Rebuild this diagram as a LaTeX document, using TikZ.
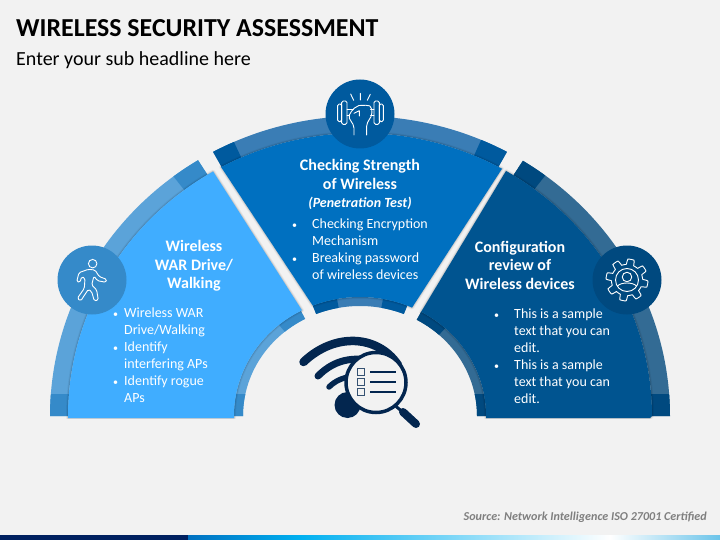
\documentclass[tikz,border=0pt]{standalone}
\usepackage{fontspec}
\setmainfont{Carlito}
\definecolor{bgc}{HTML}{F2F2F2}
\definecolor{mainL}{HTML}{40ADFF}\definecolor{ringL}{HTML}{5BA3D9}\definecolor{capL}{HTML}{358AC9}
\definecolor{mainC}{HTML}{0070C0}\definecolor{ringC}{HTML}{3A7DB5}\definecolor{capC}{HTML}{005A9E}
\definecolor{mainR}{HTML}{005490}\definecolor{ringR}{HTML}{336B94}\definecolor{capR}{HTML}{00497F}
\definecolor{navy}{HTML}{03264F}
\definecolor{srcgray}{HTML}{7F7F7F}
\definecolor{bardark}{HTML}{002060}
\definecolor{barcyan}{HTML}{00B0F0}
\definecolor{barend}{HTML}{6BC4EA}
% band between two half-ellipses around the common centre
\newcommand{\bandpath}[6]{plot[domain=#5:#6,samples=50] ({360+#1*cos(\x)},{416-#2*sin(\x)}) -- plot[domain=#6:#5,samples=50] ({360+#3*cos(\x)},{416-#4*sin(\x)}) -- cycle}
\newcommand{\outerband}[3]{\fill[#1] \bandpath{310}{300}{292}{283}{#2}{#3};}
\newcommand{\innerband}[3]{\fill[#1] \bandpath{126}{119}{117}{110}{#2}{#3};}
\tikzset{
  head/.style={font=\bfseries\fontsize{16}{18.5}\selectfont,text=white,align=center,inner sep=0pt},
  body/.style={font=\fontsize{14}{17}\selectfont,text=white,align=left,inner sep=0pt,anchor=north west},
  iconline/.style={draw=white,line width=0.9pt,line cap=round,line join=round},
  badge/.style={circle,minimum size=69pt,inner sep=0pt},
  wifi/.style={draw=navy,line cap=round,fill=none},
}
\newcommand{\bl}[1]{\makebox[0pt][r]{\makebox[#1pt][l]{\fontsize{10}{17}\selectfont•}}}
\begin{document}
\begin{tikzpicture}[x=1pt,y=-1pt]
\useasboundingbox (0,0) rectangle (720,540);
\fill[bgc] (0,0) rectangle (720,540);
% title
\node[anchor=base west,inner sep=0pt,font=\bfseries\fontsize{25.9}{28}\selectfont,text=black] (title) at (16,36.5) {WIRELESS SECURITY ASSESSMENT};
\node[anchor=base west,inner sep=0pt,font=\fontsize{20}{24}\selectfont,text=black] (sub) at (16,66) {Enter your sub headline here};
% outer rings
\outerband{ringL}{180}{121.5}
\outerband{capL}{127}{121.5}
\begin{scope}\clip (40,394) rectangle (100,416.5);\outerband{capL}{180}{170}\end{scope}
\outerband{ringC}{118.3}{61.7}
\outerband{capC}{118.3}{114}
\outerband{capC}{67}{61.7}
\outerband{ringR}{58.3}{0}
\outerband{capR}{58.3}{53.3}
\begin{scope}\clip (620,394) rectangle (680,416.5);\outerband{capR}{10}{0}\end{scope}
% inner rings
\innerband{ringL}{180}{118}
\innerband{capL}{130}{118}
\begin{scope}\clip (225,394) rectangle (260,416.5);\innerband{capL}{180}{160}\end{scope}
\innerband{ringC}{112}{68}
\innerband{capC}{112}{100.5}
\innerband{capC}{79.5}{68}
\innerband{ringR}{61}{0}
\innerband{capR}{61}{47.5}
\begin{scope}\clip (465,394) rectangle (490,416.5);\innerband{capR}{20}{0}\end{scope}
% soft shadow + main sectors
\newcommand{\sectorL}{(68,418) -- plot[domain=180:120.2,samples=50] ({360+292*cos(\x)},{416-283*sin(\x)}) -- plot[domain=117.4:180,samples=40] ({360+126*cos(\x)},{416-119*sin(\x)}) -- (234,418) -- cycle}
\newcommand{\sectorC}{plot[domain=118.4:60.9,samples=50] ({360+292*cos(\x)},{416-283*sin(\x)}) -- plot[domain=65.6:112,samples=30] ({360+126*cos(\x)},{416-119*sin(\x)}) -- cycle}
\newcommand{\sectorR}{(650,418) -- plot[domain=0:60,samples=50] ({360+292*cos(\x)},{416-283*sin(\x)}) -- plot[domain=61:0,samples=40] ({360+126*cos(\x)},{416-119*sin(\x)}) -- (486,418) -- cycle}
\foreach \w/\o in {4/0.04,2.5/0.06,1.2/0.08}{
  \begin{scope}
  \clip (0,0) rectangle (720,418);
  \draw[black,opacity=\o,line width=\w pt,line join=round] \sectorL;
  \draw[black,opacity=\o,line width=\w pt,line join=round] \sectorC;
  \draw[black,opacity=\o,line width=\w pt,line join=round] \sectorR;
  \end{scope}
}
\fill[mainL] \sectorL;
\fill[mainC] \sectorC;
\fill[mainR] \sectorR;
% badges
\node[badge,fill=capL] (bL) at (92,280) {};
\node[badge,fill=capC] (bC) at (360,114) {};
\node[badge,fill=capR] (bR) at (627,280) {};
% walker icon
\begin{scope}[shift={(40,150)},x=0.3333pt,y=-0.3333pt]
\node[circle,draw=white,line width=0.9pt,minimum size=8.5pt,inner sep=0pt] (walkhead) at (158,341) {};
\draw[iconline,rounded corners=1.5pt] (145,358) -- (165,360) -- (178,380) -- (200,388) -- (198,397) -- (172,392) -- (162,378) -- (155,405) -- (170,420) -- (175,450) -- (163,453) -- (155,425) -- (145,418) -- (122,453) -- (112,445) -- (133,415) -- (135,385) -- (125,380) -- (120,397) -- (110,395) -- (117,368) -- cycle;
\end{scope}
% fist + dumbbell icon
\begin{scope}[shift={(200,70)},x=0.3333pt,y=-0.3333pt]
\draw[iconline,rounded corners=1.5pt] (413,102) rectangle (425,155);
\draw[iconline,rounded corners=1.5pt] (425,93) rectangle (441,163);
\draw[iconline,rounded corners=1.5pt] (522,93) rectangle (538,163);
\draw[iconline,rounded corners=1.5pt] (538,102) rectangle (550,155);
\draw[iconline] (441,118) -- (460,118) (441,135) -- (448,135) (512,118) -- (522,118) (512,135) -- (522,135);
\draw[iconline,rounded corners=2pt] (462,195) -- (462,168) -- (445,140) -- (458,118) -- (470,110) -- (482,104) -- (494,108) -- (504,104) -- (515,112) -- (516,135) -- (500,162) -- (500,195);
\draw[iconline] (462,130) -- (478,122) -- (478,138);
\draw[iconline] (452,72) -- (461,91) (481,70) -- (481,90) (511,73) -- (502,91);
\end{scope}
% gear icon
\draw[iconline] plot[domain=0:360,samples=240,smooth] ({627+(18.3+2.7*max(-1,min(1,3*sin(8*\x))))*cos(\x)},{280+(18.3+2.7*max(-1,min(1,3*sin(8*\x))))*sin(\x)}) -- cycle;
\node[circle,draw=white,line width=0.9pt,minimum size=23pt,inner sep=0pt] (gearring) at (627,280) {};
\node[circle,draw=white,line width=0.9pt,minimum size=9.5pt,inner sep=0pt] (gearhead) at (627,277) {};
\draw[iconline] (617.5,286) .. controls (621,282) and (633,282) .. (636.5,286);
% wifi + magnifier icon
\draw[wifi,line width=8.5pt] (303.5,362) .. controls (335,332) and (378,335) .. (398,365);
\draw[wifi,line width=7pt] (318,376) .. controls (332,362) and (348,357) .. (368,360);
\draw[wifi,line width=5.5pt] (329,387) .. controls (335,381) and (342,378) .. (352,376);
\fill[navy] (347.5,405) circle (13pt);
\draw[navy,line width=3pt] (392,403) -- (405,414);
\draw[navy,line width=8pt,line cap=round] (403,412) -- (416,424);
\node[circle,draw=navy,fill=bgc,line width=3.5pt,minimum size=60pt,inner sep=0pt] (lens) at (376,382.5) {};
\foreach \yy in {372,382,392}{
  \draw[draw=navy!80!white,line width=1pt] (357.5,\yy-3.5) rectangle (364.5,\yy+3.5);
  \draw[navy,line width=1.6pt] (370,\yy) -- (396,\yy);
}
% texts
\node[head] (hL) at (194,266) {Wireless\\WAR Drive/\\Walking};
\node[head] (hC) at (360,174.5) {Checking Strength\\of Wireless};
\node[head,font=\bfseries\itshape\fontsize{14}{17}\selectfont] (hC2) at (360,203) {(Penetration Test)};
\node[head] (hR) at (520,265) {Configuration\\review of\\Wireless devices};
\node[body] (tL) at (124,307.5) {\bl{11}Wireless WAR\\Drive/Walking\\\bl{11}Identify\\interfering APs\\\bl{11}Identify rogue\\APs};
\node[body] (tC) at (312,218.5) {\bl{20}Checking Encryption\\Mechanism\\\bl{20}Breaking password\\of wireless devices};
\node[body] (tR) at (514,308.5) {\bl{20}This is a sample\\text that you can\\edit.\\\bl{20}This is a sample\\text that you can\\edit.};
\node[anchor=base east,inner sep=0pt,font=\bfseries\itshape\fontsize{12.1}{14}\selectfont,text=srcgray] (src) at (707,520) {Source: Network Intelligence ISO 27001 Certified};
% bottom bar
\fill[left color=mainC,right color=barcyan] (188,535) rectangle (300,540);
\fill[left color=barcyan,right color=white] (300,535) rectangle (610,540);
\fill[left color=white,right color=barend] (610,535) rectangle (720,540);
\fill[bardark] (0,535) rectangle (188,540);
\end{tikzpicture}
\end{document}
